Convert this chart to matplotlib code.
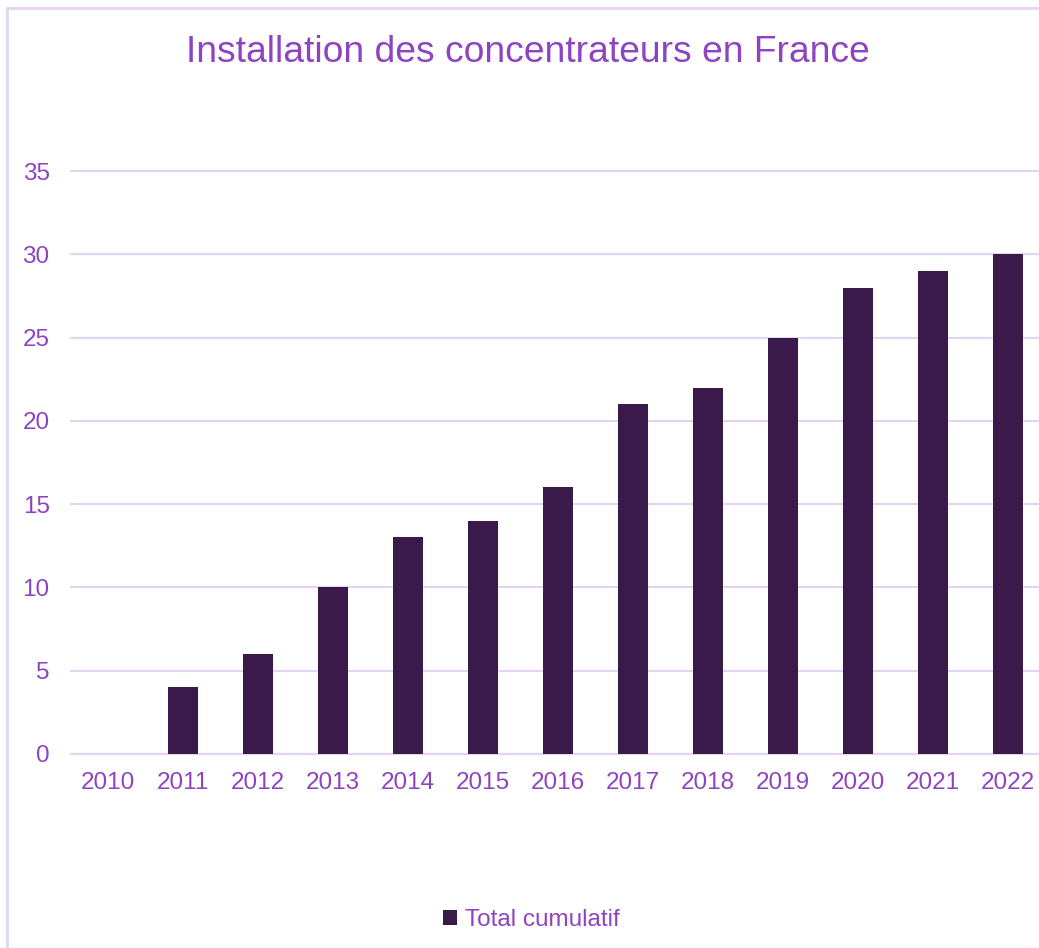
import matplotlib
matplotlib.use("Agg")
import matplotlib.pyplot as plt
from matplotlib.patches import Rectangle

years = ["2010", "2011", "2012", "2013", "2014", "2015", "2016",
         "2017", "2018", "2019", "2020", "2021", "2022"]
total_cumulatif = [0, 4, 6, 10, 13, 14, 16, 21, 22, 25, 28, 29, 30]
y_ticks = [0, 5, 10, 15, 20, 25, 30, 35]

text_color = "#8E44C2"
bar_color = "#3A1A4A"
grid_color = "#E4D4F2"

plt.rcParams["font.family"] = ["Liberation Sans", "DejaVu Sans"]

fig = plt.figure(figsize=(10.39, 9.48), dpi=100)

# chart frame (cropped on the right and bottom)
fig.patches.append(Rectangle((7 / 1039, -0.1), 1.2, 1 - 8 / 948 + 0.1,
                             transform=fig.transFigure, fill=False,
                             edgecolor=grid_color, linewidth=2))

ax = fig.add_axes([70.5 / 1039, 1 - 754 / 948, 975 / 1039, (754 - 171) / 948])
x = range(len(years))
ax.bar(x, total_cumulatif, width=0.4, color=bar_color, label="Total cumulatif",
       zorder=3)
ax.set_xlim(-0.5, len(years) - 0.5)
ax.set_ylim(0, 35)
ax.set_yticks(y_ticks)
ax.set_xticks(list(x))
ax.set_xticklabels(years)
ax.tick_params(axis="both", length=0, labelsize=17.5, colors=text_color)
ax.tick_params(axis="y", pad=15)
ax.tick_params(axis="x", pad=13)
ax.grid(axis="y", color=grid_color, linewidth=1.5, zorder=0)
for gl in ax.get_ygridlines():
    gl.set_clip_on(False)
for s in ax.spines.values():
    s.set_visible(False)

fig.text(528 / 1039, 1 - 53 / 948, "Installation des concentrateurs en France",
         ha="center", va="center", fontsize=26.8, color=text_color)

leg = fig.legend(loc="center", bbox_to_anchor=(531 / 1039, 1 - 920 / 948),
                 frameon=False, fontsize=17.5, handlelength=0.6, handleheight=0.6,
                 handletextpad=0.3)
for t in leg.get_texts():
    t.set_color(text_color)

fig.savefig("out.png", dpi=100)
